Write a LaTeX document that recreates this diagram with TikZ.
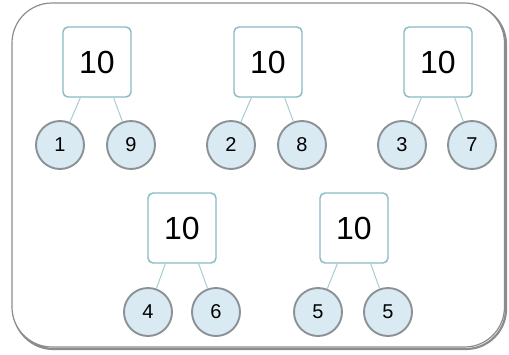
\documentclass[tikz,border=0pt]{standalone}
\usepackage{fontspec}
\setmainfont{Liberation Sans}
\usetikzlibrary{positioning}
\definecolor{BoxEdge}{HTML}{86BAC4}
\definecolor{PartEdge}{HTML}{8A9296}
\definecolor{PartFill}{HTML}{D9EAF2}
\definecolor{LinkTeal}{HTML}{A9CCD0}
\definecolor{FrameEdge}{HTML}{8C8C8C}

\begin{document}
\begin{tikzpicture}[
  x=1pt,y=-1pt,
  font=\fontsize{20}{20}\selectfont,
  sum/.style={draw=BoxEdge,line width=1.4pt,rounded corners=5pt,fill=white,
    minimum width=68pt,minimum height=70pt,inner sep=0pt,
    font=\fontsize{32}{32}\selectfont},
  part/.style={circle,draw=PartEdge,line width=1.9pt,fill=PartFill,
    minimum size=48pt,inner sep=0pt},
  ln/.style={draw=LinkTeal,line width=1pt},
]
\useasboundingbox (0,0) rectangle (509,354);
% frame with a soft shadow on the lower right
\draw[black!45,line width=2.2pt,rounded corners=40pt] (13.5,4.5) rectangle (506,349);
\draw[FrameEdge,line width=1.2pt,fill=white,rounded corners=40pt] (12,3) rectangle (504.5,347);

\node[sum] (s1) at (97,62) {10};
\node[sum] (s2) at (268,62) {10};
\node[sum] (s3) at (438,62) {10};
\node[sum] (s4) at (182,228) {10};
\node[sum] (s5) at (354,228) {10};

\node[part] (p1a) at (60,145) {1};  \node[part] (p1b) at (131,145) {9};
\node[part] (p2a) at (231,145) {2}; \node[part] (p2b) at (302,145) {8};
\node[part] (p3a) at (402,145) {3}; \node[part] (p3b) at (472,145) {7};
\node[part] (p4a) at (148,312) {4}; \node[part] (p4b) at (216,312) {6};
\node[part] (p5a) at (318,312) {5}; \node[part] (p5b) at (388,312) {5};

\draw[ln] (s1.-115) -- (p1a); \draw[ln] (s1.-65) -- (p1b);
\draw[ln] (s2.-115) -- (p2a); \draw[ln] (s2.-65) -- (p2b);
\draw[ln] (s3.-115) -- (p3a); \draw[ln] (s3.-65) -- (p3b);
\draw[ln] (s4.-115) -- (p4a); \draw[ln] (s4.-65) -- (p4b);
\draw[ln] (s5.-115) -- (p5a); \draw[ln] (s5.-65) -- (p5b);
\end{tikzpicture}
\end{document}
